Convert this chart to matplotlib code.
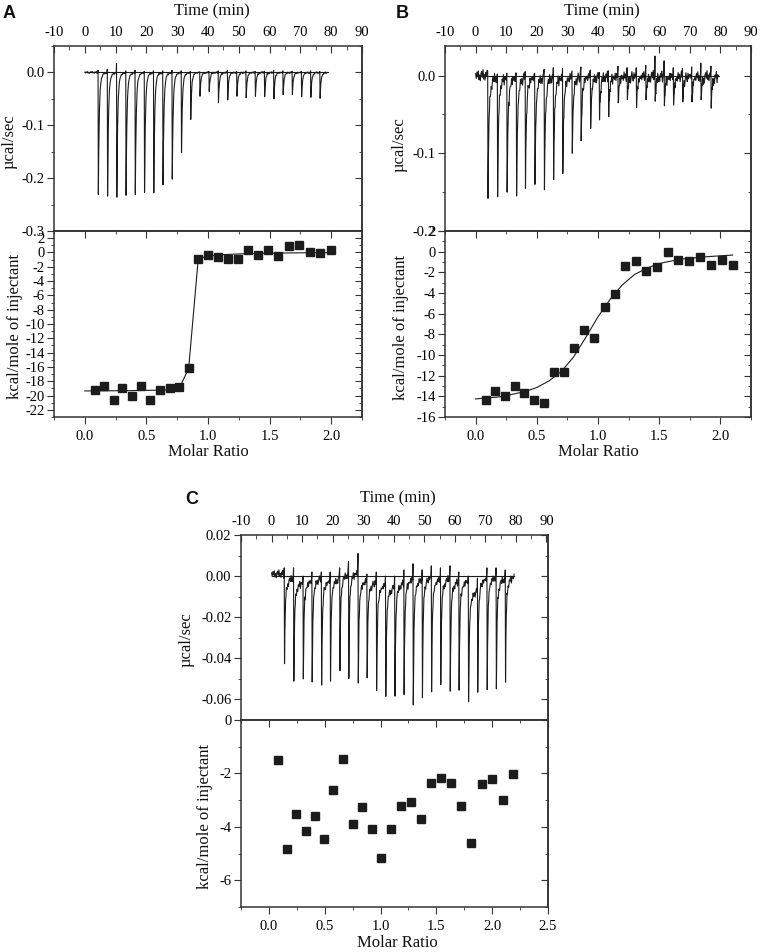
import numpy as np
import matplotlib
matplotlib.use("Agg")
import matplotlib.pyplot as plt
from matplotlib.ticker import MultipleLocator, FormatStrFormatter, NullFormatter

plt.rcParams['font.family'] = ['Liberation Serif', 'DejaVu Serif']
plt.rcParams['axes.unicode_minus'] = False

INK = '#1c1c1c'
FRAME = '#333333'

# ---------------- data: panel A ----------------
A_inj_time = [4.3, 7.3, 10.3, 13.3, 16.3, 19.3, 22.3, 25.3, 28.3, 31.3, 34.3, 37.3, 40.3,
              43.3, 46.3, 49.3, 52.3, 55.3, 58.3, 61.3, 64.3, 67.3, 70.3, 73.3, 76.3]
A_peak = [-0.231, -0.234, -0.236, -0.2325, -0.231, -0.227, -0.228, -0.2125, -0.202, -0.152,
          -0.089, -0.045, -0.036, -0.0575, -0.052, -0.045, -0.048, -0.045, -0.046, -0.050,
          -0.042, -0.042, -0.046, -0.047, -0.049]
A_pre = [0.004, 0.006, 0.017, 0.003, 0.004, 0.002, 0.003, 0.003, 0.004, 0.003, 0.002, 0.001,
         0.002, 0.003, 0.004, 0.002, 0.003, 0.002, 0.002, 0.004, 0.003, 0.002, 0.002, 0.003, 0.002]
A_ratio = [0.081, 0.157, 0.233, 0.304, 0.382, 0.455, 0.531, 0.610, 0.688, 0.764, 0.843, 0.921,
           1.003, 1.081, 1.163, 1.244, 1.325, 1.404, 1.488, 1.569, 1.656, 1.737, 1.824, 1.911, 1.995]
A_heat = [-19.2, -18.65, -20.6, -18.9, -20.0, -18.7, -20.6, -19.25, -19.0, -18.85, -16.2, -0.9,
          -0.3, -0.7, -0.85, -0.9, 0.3, -0.3, 0.4, -0.45, 0.9, 1.0, 0.1, -0.05, 0.4]
A_fit_ratio = [0.0] + A_ratio
A_fit = [-19.35, -19.35, -19.34, -19.33, -19.32, -19.31, -19.29, -19.27, -19.24, -19.2, -19.1,
         -16.2, -0.85, -0.5, -0.35, -0.27, -0.21, -0.17, -0.14, -0.11, -0.09, -0.07, -0.05,
         -0.04, -0.03, -0.02]

# ---------------- data: panel B ----------------
B_inj_time = [3.95, 7.1, 10.2, 13.3, 16.2, 19.3, 22.4, 25.4, 28.4, 31.5, 34.4, 37.5, 40.4,
              43.4, 46.5, 49.5, 52.5, 55.6, 58.6, 61.6, 64.6, 67.6, 70.6, 73.6, 76.9]
B_peak = [-0.158, -0.156, -0.150, -0.155, -0.145, -0.140, -0.147, -0.134, -0.126, -0.100,
          -0.084, -0.068, -0.057, -0.053, -0.035, -0.031, -0.041, -0.031, -0.033, -0.039,
          -0.038, -0.034, -0.034, -0.031, -0.042]
B_pre = [0.006, 0.002, 0.003, 0.003, 0.005, 0.003, 0.008, 0.010, 0.009, 0.006, 0.011, 0.007,
         0.004, 0.006, 0.012, 0.010, 0.010, 0.013, 0.025, 0.019, 0.010, 0.009, 0.011, 0.016, 0.012]
B_ratio = [0.082, 0.162, 0.239, 0.319, 0.398, 0.475, 0.558, 0.640, 0.720, 0.802, 0.887, 0.970,
           1.055, 1.137, 1.223, 1.310, 1.396, 1.480, 1.570, 1.657, 1.745, 1.832, 1.923, 2.014, 2.100]
B_heat = [-14.4, -13.5, -13.95, -13.0, -13.7, -14.35, -14.6, -11.6, -11.6, -9.3, -7.6, -8.4,
          -5.35, -4.1, -1.4, -0.9, -1.9, -1.45, -0.03, -0.85, -0.9, -0.5, -1.25, -0.77, -1.25]
B_fit_ratio = [0.0, 0.2, 0.4, 0.5, 0.6, 0.7, 0.8, 0.9, 1.0, 1.1, 1.2, 1.3, 1.4, 1.5, 1.6, 1.7,
               1.8, 1.9, 2.0, 2.1]
B_fit = [-14.25, -14.05, -13.55, -13.15, -12.5, -11.6, -10.2, -8.3, -6.3, -4.6, -3.2, -2.2,
         -1.6, -1.15, -0.9, -0.7, -0.58, -0.48, -0.4, -0.33]

# ---------------- data: panel C ----------------
C_inj_time = [4.15, 7.2, 10.3, 13.2, 16.3, 19.2, 22.3, 25.2, 28.3, 31.2, 34.3, 37.3, 40.3,
              43.3, 46.3, 49.3, 52.3, 55.3, 58.4, 61.3, 64.4, 67.4, 70.5, 73.5, 76.5]
C_peak = [-0.0426, -0.0511, -0.0500, -0.0515, -0.0530, -0.0511, -0.0460, -0.0498, -0.0520,
          -0.0495, -0.0556, -0.0585, -0.0584, -0.0576, -0.0627, -0.0592, -0.0563, -0.0527,
          -0.0560, -0.0555, -0.0611, -0.0565, -0.0552, -0.0548, -0.0516]
C_pre = [0.003, 0.004, 0.002, 0.003, 0.002, 0.003, 0.004, 0.005, 0.008, 0.002, 0.004, 0.003,
         0.004, 0.005, 0.006, 0.003, 0.004, 0.004, 0.005, 0.003, 0.001, 0.005, 0.004, 0.003, 0.003]
C_drift = [0.001, 0.0, -0.002, -0.001, 0.0, -0.001, 0.0, 0.002, 0.003, -0.001, -0.002, -0.003,
           -0.004, -0.002, 0.0, 0.0, 0.001, 0.0, 0.0, -0.001, -0.001, -0.006, 0.0, 0.001, 0.0, 0.001]
C_ratio = [0.084, 0.165, 0.246, 0.329, 0.413, 0.494, 0.578, 0.665, 0.749, 0.835, 0.919, 1.006,
           1.093, 1.180, 1.269, 1.359, 1.449, 1.539, 1.632, 1.722, 1.814, 1.907, 2.000, 2.093, 2.186]
C_heat = [-1.49, -4.82, -3.52, -4.16, -3.59, -4.44, -2.61, -1.47, -3.91, -3.27, -4.09, -5.17,
          -4.08, -3.21, -3.07, -3.71, -2.34, -2.17, -2.37, -3.21, -4.60, -2.38, -2.22, -3.00, -2.03]

# hand-typed baseline jitter pattern (shape of the recorder noise)
WIGGLE = [0.3, -0.5, 0.6, -0.2, 0.8, -0.7, 0.1, -0.9, 0.4, 0.7, -0.3, 1.0, -0.6, 0.2, -0.8,
          0.5, -0.1, 0.9, -1.0, 0.3, 0.0, -0.4, 0.6, -0.7, 0.5, -0.2, 0.2, -0.6, 0.8, -0.3,
          0.4, -0.9, 0.1, 0.9, -0.2, -0.8, 0.6, -0.4, 0.3, -0.1]


def build_trace(t_start, t_end, inj, peaks, pre, tau1, tau2, frac2, noise, drift=None):
    if drift is None:
        drift = [0.0] * (len(inj) + 1)
    ts, ys = [], []
    t = t_start
    k = 0
    while t < inj[0] - 0.1:
        ts.append(t)
        ys.append(drift[0] + noise * WIGGLE[k % len(WIGGLE)])
        t += 0.22
        k += 1
    n = len(WIGGLE)
    for i, (t0, d) in enumerate(zip(inj, peaks)):
        t1 = inj[i + 1] if i + 1 < len(inj) else t_end
        ts.append(t0)
        ys.append(pre[i] + drift[i])
        ts.append(t0 + 0.1)
        ys.append(d)
        dt = 0.22
        j = 0
        while t0 + dt < t1 - 0.08:
            x = dt - 0.1
            rec = d * ((1 - frac2) * np.exp(-x / tau1) + frac2 * np.exp(-x / tau2))
            ts.append(t0 + dt)
            ys.append(rec + drift[i + 1] + noise * WIGGLE[(j + 7 * i) % n])
            dt += 0.12 if dt < 0.7 else 0.22
            j += 1
    return ts, ys


def style_top(ax, ylim, major, minor, fmt, xmax=90):
    ax.set_xlim(-10, xmax)
    ax.set_ylim(*ylim)
    ax.xaxis.set_major_locator(MultipleLocator(10))
    ax.xaxis.set_minor_locator(MultipleLocator(5))
    ax.xaxis.tick_top()
    ax.tick_params(axis='x', which='both', direction='in', top=True, bottom=False,
                   labeltop=True, labelbottom=False, pad=5, labelsize=10.5, color=FRAME)
    ax.tick_params(axis='x', which='major', length=5)
    ax.tick_params(axis='x', which='minor', length=3)
    ax.yaxis.set_major_locator(MultipleLocator(major))
    ax.yaxis.set_minor_locator(MultipleLocator(minor))
    ax.yaxis.set_major_formatter(FormatStrFormatter(fmt))
    ax.tick_params(axis='y', which='both', direction='out', left=True, right=False,
                   pad=2, labelsize=10.5, color=FRAME)
    ax.tick_params(axis='y', which='major', length=5)
    ax.tick_params(axis='y', which='minor', length=2.5)
    sec = ax.secondary_yaxis('right')
    sec.yaxis.set_major_locator(MultipleLocator(major))
    sec.yaxis.set_minor_locator(MultipleLocator(minor))
    sec.yaxis.set_major_formatter(NullFormatter())
    sec.tick_params(axis='y', which='both', direction='in', color=FRAME)
    sec.tick_params(axis='y', which='major', length=5)
    sec.tick_params(axis='y', which='minor', length=2.5)
    sec.spines['right'].set_color(FRAME)
    sec.spines['right'].set_linewidth(1.1)
    for s in ax.spines.values():
        s.set_color(FRAME)
        s.set_linewidth(1.1)


def style_bot(ax, xlim, ylim, major, minor, xmaxtick):
    ax.set_xlim(*xlim)
    ax.set_ylim(*ylim)
    ax.xaxis.set_major_locator(MultipleLocator(0.5))
    ax.xaxis.set_minor_locator(MultipleLocator(0.25))
    ax.xaxis.set_major_formatter(FormatStrFormatter('%.1f'))
    ax.tick_params(axis='x', which='both', direction='out', top=False, bottom=True,
                   pad=4, labelsize=10.5, color=FRAME)
    ax.tick_params(axis='x', which='major', length=5)
    ax.tick_params(axis='x', which='minor', length=2.5)
    ax.yaxis.set_major_locator(MultipleLocator(major))
    ax.yaxis.set_minor_locator(MultipleLocator(minor))
    ax.yaxis.set_major_formatter(FormatStrFormatter('%d'))
    ax.tick_params(axis='y', which='both', direction='out', left=True, right=False,
                   pad=1.5, labelsize=10.5, color=FRAME)
    ax.tick_params(axis='y', which='major', length=5)
    ax.tick_params(axis='y', which='minor', length=2.5)
    sec = ax.secondary_yaxis('right')
    sec.yaxis.set_major_locator(MultipleLocator(major))
    sec.yaxis.set_minor_locator(MultipleLocator(minor))
    sec.yaxis.set_major_formatter(NullFormatter())
    sec.tick_params(axis='y', which='both', direction='in', color=FRAME)
    sec.tick_params(axis='y', which='major', length=5)
    sec.tick_params(axis='y', which='minor', length=2.5)
    sec.spines['right'].set_color(FRAME)
    sec.spines['right'].set_linewidth(1.1)
    sx = ax.secondary_xaxis('top')
    sx.xaxis.set_major_locator(MultipleLocator(0.5))
    sx.xaxis.set_minor_locator(MultipleLocator(0.25))
    sx.xaxis.set_major_formatter(NullFormatter())
    sx.tick_params(axis='x', which='both', direction='in', color=FRAME)
    sx.tick_params(axis='x', which='major', length=5)
    sx.tick_params(axis='x', which='minor', length=2.5)
    sx.spines['top'].set_color(FRAME)
    sx.spines['top'].set_linewidth(1.1)
    for s in ax.spines.values():
        s.set_color(FRAME)
        s.set_linewidth(1.1)
    ax.set_xticks([v for v in np.arange(0, xmaxtick + 0.01, 0.5)])


W, H = 760, 952
fig = plt.figure(figsize=(W / 100, H / 100), dpi=100)


def box(l, t, r, b):
    return [l / W, 1 - b / H, (r - l) / W, (b - t) / H]


def ftext(x, y, s, **kw):
    fig.text(x / W, 1 - y / H, s, **kw)


# ---- panel A ----
axA1 = fig.add_axes(box(54, 46, 362, 231))
axA2 = fig.add_axes(box(54, 231, 362, 417))
tA, yA = build_trace(0.0, 79.0, A_inj_time, A_peak, A_pre, 0.28, 0.9, 0.08, 0.0018)
axA1.plot(tA, yA, color=INK, lw=0.8)
axA1.plot([0.0, 79.0], [0, 0], color=INK, lw=0.8)
style_top(axA1, (-0.3, 0.05), 0.1, 0.05, '%.1f')
axA2.plot(A_fit_ratio, A_fit, color=INK, lw=0.8)
axA2.plot(A_ratio, A_heat, 's', color=INK, ms=6)
style_bot(axA2, (-0.25, 2.25), (-23, 3), 2, 1, 2.0)

# ---- panel B ----
axB1 = fig.add_axes(box(445, 46, 751, 231))
axB2 = fig.add_axes(box(445, 231, 751, 417))
tB, yB = build_trace(0.0, 79.5, B_inj_time, B_peak, B_pre, 0.3, 1.3, 0.15, 0.0075)
axB1.plot(tB, yB, color=INK, lw=0.8)
axB1.plot([0.0, 79.5], [0, 0], color=INK, lw=0.8)
style_top(axB1, (-0.2, 0.038), 0.1, 0.05, '%.1f')
axB2.plot(B_fit_ratio, B_fit, color=INK, lw=0.8)
axB2.plot(B_ratio, B_heat, 's', color=INK, ms=6)
style_bot(axB2, (-0.25, 2.25), (-16, 2), 2, 1, 2.0)

# ---- panel C ----
axC1 = fig.add_axes(box(241, 535, 548, 720))
axC2 = fig.add_axes(box(241, 720, 548, 907))
tC, yC = build_trace(0.0, 79.5, C_inj_time, C_peak, C_pre, 0.22, 1.4, 0.18, 0.002, C_drift)
axC1.plot(tC, yC, color=INK, lw=0.8)
axC1.plot([0.0, 79.5], [0, 0], color=INK, lw=0.8)
style_top(axC1, (-0.07, 0.02), 0.02, 0.01, '%.2f', xmax=90.5)
axC2.plot(C_ratio, C_heat, 's', color=INK, ms=6)
style_bot(axC2, (-0.25, 2.5), (-7, 0), 2, 1, 2.5)

# ---- labels ----
lab = dict(fontsize=12, ha='center', va='center', color='#111111')
ftext(212, 11, 'Time (min)', **lab)
ftext(602, 11, 'Time (min)', **lab)
ftext(398, 498, 'Time (min)', **lab)
ftext(208, 452, 'Molar Ratio', **lab)
ftext(598, 452, 'Molar Ratio', **lab)
ftext(397, 943, 'Molar Ratio', **lab)
ftext(10, 142, 'µcal/sec', rotation=90, **lab)
ftext(15, 326, 'kcal/mole of injectant', rotation=90, **lab)
ftext(400, 145, 'µcal/sec', rotation=90, **lab)
ftext(401, 327, 'kcal/mole of injectant', rotation=90, **lab)
ftext(187, 640, 'µcal/sec', rotation=90, **lab)
ftext(205, 816, 'kcal/mole of injectant', rotation=90, **lab)

let = dict(fontsize=13, fontweight='bold', ha='center', va='center',
           family=['Liberation Sans', 'DejaVu Sans'], color='#111111')
ftext(9, 13, 'A', **let)
ftext(402, 13, 'B', **let)
ftext(192, 499, 'C', **let)

fig.savefig('out.png', dpi=100, facecolor='white')
